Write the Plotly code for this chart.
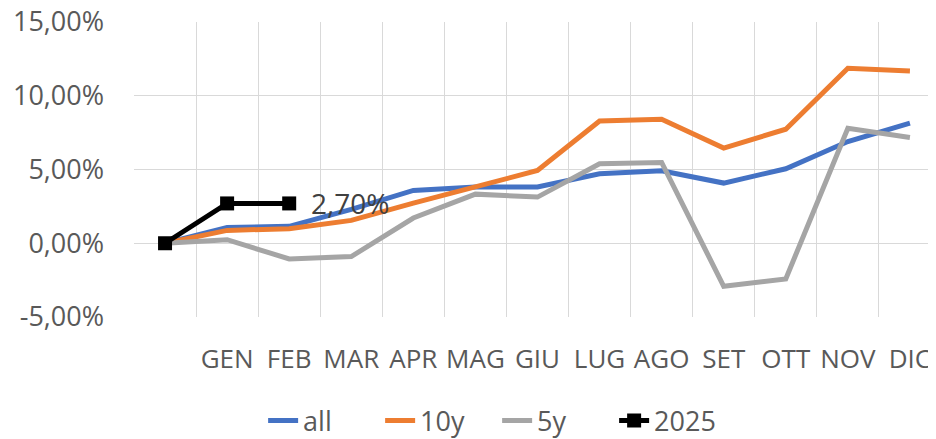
import plotly.graph_objects as go

categories = ["", "GEN", "FEB", "MAR", "APR", "MAG", "GIU", "LUG", "AGO", "SET", "OTT", "NOV", "DIC"]
all_vals = [0, 1.07, 1.15, 2.30, 3.58, 3.81, 3.81, 4.71, 4.91, 4.08, 5.05, 6.90, 8.14]
y10_vals = [0, 0.87, 0.99, 1.55, 2.72, 3.81, 4.93, 8.29, 8.41, 6.45, 7.73, 11.86, 11.68]
y5_vals = [0, 0.24, -1.06, -0.90, 1.71, 3.33, 3.13, 5.39, 5.48, -2.92, -2.42, 7.80, 7.17]
y2025_vals = [0, 2.70, 2.70]
y_ticks = [-5, 0, 5, 10, 15]


def pct(v):
    return f"{v:.2f}%".replace(".", ",")


x = list(range(len(categories)))
FONT = "Open Sans"
TXT = "#595959"
LW = 5

fig = go.Figure()
fig.add_trace(go.Scatter(x=x, y=all_vals, name="all", mode="lines",
                         line=dict(color="#4472C4", width=LW)))
fig.add_trace(go.Scatter(x=x, y=y10_vals, name="10y", mode="lines",
                         line=dict(color="#ED7D31", width=LW)))
fig.add_trace(go.Scatter(x=x, y=y5_vals, name="5y", mode="lines",
                         line=dict(color="#A5A5A5", width=LW)))
x25 = x[:len(y2025_vals)]
fig.add_trace(go.Scatter(x=x25, y=y2025_vals, name="2025",
                         mode="lines+markers",
                         line=dict(color="#000000", width=LW),
                         marker=dict(symbol="square", size=14, color="#000000")))
fig.add_annotation(x=x25[-1], y=y2025_vals[-1], text=pct(y2025_vals[-1]),
                   showarrow=False, xanchor="left", yanchor="middle", xshift=20,
                   font=dict(family=FONT, size=28, color="#404040"))

# page body has an 8px margin, so the figure is 8px smaller than the window
fig.update_layout(
    width=928, height=431,
    margin=dict(l=126, r=0, t=14, b=122, autoexpand=False),
    paper_bgcolor="white", plot_bgcolor="white",
    font=dict(family=FONT, size=26, color=TXT),
    showlegend=True,
    legend=dict(orientation="h", x=0.161, xanchor="left",
                yref="container", y=0.042, yanchor="middle",
                font=dict(family=FONT, size=27, color=TXT),
                entrywidth=72, bgcolor="rgba(0,0,0,0)"),
)
fig.update_xaxes(
    range=[-0.5, 12.42], automargin=False, ticklabeloverflow="allow",
    tickmode="array", tickvals=x, ticktext=categories,
    showgrid=False, zeroline=False, showline=False,
    ticks="", ticklabelstandoff=24,
    tickfont=dict(family=FONT, size=26, color=TXT),
    minor=dict(tickmode="array", tickvals=[i - 0.5 for i in range(len(categories) + 1)],
               showgrid=True, gridcolor="#D9D9D9", gridwidth=1.3, ticks=""),
)
fig.update_yaxes(
    range=[-5, 15], automargin=False, ticklabeloverflow="allow",
    tickmode="array", tickvals=y_ticks, ticktext=[pct(v) for v in y_ticks],
    showgrid=True, gridcolor="#D9D9D9", gridwidth=1.3,
    zeroline=False, showline=False, ticks="", ticklabelstandoff=29,
    tickfont=dict(family=FONT, size=27, color=TXT),
)

fig.write_html("out.html")
